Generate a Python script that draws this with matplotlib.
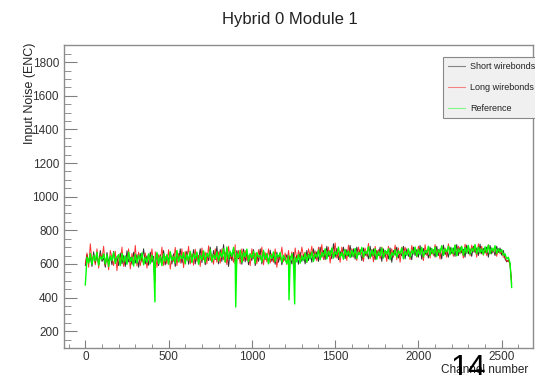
import numpy as np
import matplotlib.pyplot as plt
from matplotlib.ticker import MultipleLocator

plt.rcParams['font.family'] = ['Liberation Sans', 'DejaVu Sans']

# noise per channel, read every 10 channels (0 .. 2560)
step = 10
short_wb = [590, 655, 612, 640, 585, 672, 605, 650, 598, 680, 615, 635, 580, 668, 610, 645,
            595, 675, 618, 642, 590, 665, 600, 650, 585, 678, 612, 640, 598, 670, 605, 655,
            580, 662, 615, 690, 600, 648, 592, 670, 610, 645, 605, 660, 590, 655, 612, 680,
            595, 650, 620, 672, 600, 660, 585, 668, 615, 690, 605, 650, 622, 675, 598, 665,
            612, 685, 600, 660, 625, 690, 608, 672, 595, 665, 620, 700, 610, 680, 625, 705,
            600, 685, 615, 715, 610, 690, 585, 670, 620, 692, 600, 680, 630, 665, 598, 688,
            612, 672, 595, 660, 620, 685, 590, 655, 615, 690, 600, 670, 625, 660, 605, 682,
            615, 650, 598, 670, 610, 660, 595, 640, 620, 655, 615, 645, 600, 668, 612, 650,
            598, 670, 615, 655, 600, 680, 620, 665, 610, 690, 630, 672, 615, 700, 640, 680,
            625, 705, 645, 680, 630, 720, 640, 692, 625, 675, 650, 700, 632, 685, 645, 710,
            640, 690, 628, 700, 655, 685, 620, 695, 650, 672, 630, 705, 645, 690, 625, 680,
            650, 700, 615, 690, 640, 675, 630, 695, 610, 680, 652, 700, 635, 668, 648, 705,
            630, 690, 645, 672, 625, 700, 650, 685, 640, 710, 628, 692, 655, 680, 635, 700,
            660, 685, 640, 705, 650, 690, 630, 712, 655, 680, 640, 700, 662, 695, 645, 715,
            650, 700, 665, 688, 640, 712, 660, 690, 645, 705, 668, 695, 650, 718, 660, 692,
            665, 700, 640, 710, 660, 690, 650, 705, 668, 695, 652, 680, 630, 612, 625, 600,
            480]
long_wb = [600, 665, 580, 720, 610, 650, 595, 690, 575, 660, 630, 705, 590, 648, 565, 680,
           635, 590, 675, 560, 655, 610, 700, 585, 640, 615, 690, 570, 662, 600, 710, 588,
           670, 590, 640, 600, 665, 575, 650, 620, 690, 598, 672, 580, 655, 610, 700, 590,
           645, 600, 685, 570, 650, 615, 698, 590, 662, 605, 690, 578, 675, 620, 705, 600,
           660, 592, 688, 615, 650, 585, 695, 625, 670, 600, 708, 620, 655, 598, 690, 610,
           672, 605, 690, 625, 670, 595, 705, 630, 650, 610, 715, 620, 680, 600, 690, 618,
           680, 620, 650, 590, 690, 630, 665, 600, 685, 625, 700, 595, 668, 612, 690, 605,
           660, 610, 690, 580, 650, 625, 700, 615, 665, 595, 680, 610, 672, 590, 695, 620,
           680, 620, 700, 645, 670, 610, 690, 650, 705, 630, 678, 618, 700, 640, 715, 625,
           675, 640, 700, 605, 690, 650, 725, 635, 670, 610, 700, 642, 688, 620, 712, 648,
           690, 640, 680, 620, 700, 655, 670, 615, 695, 645, 722, 630, 685, 612, 705, 650,
           685, 630, 700, 660, 680, 615, 705, 650, 690, 640, 712, 625, 695, 610, 700, 655,
           700, 655, 685, 625, 710, 660, 690, 640, 705, 665, 688, 620, 715, 650, 695, 635,
           690, 650, 715, 660, 685, 628, 708, 655, 695, 640, 720, 662, 690, 645, 712, 650,
           705, 660, 690, 635, 718, 665, 700, 648, 712, 670, 695, 640, 720, 660, 705, 652,
           690, 650, 715, 660, 685, 670, 700, 645, 690, 660, 675, 640, 640, 615, 620, 598,
           490]
reference = [475, 640, 605, 662, 598, 650, 618, 670, 592, 645, 628, 660, 600, 655, 585, 648,
             620, 668, 602, 640, 655, 590, 662, 612, 648, 598, 670, 615, 640, 588, 658, 605,
             650, 622, 665, 595, 640, 610, 660, 600, 652, 618, 612, 668, 602, 645, 590, 660,
             615, 655, 598, 672, 620, 645, 605, 680, 612, 650, 630, 668, 600, 658, 622, 675,
             608, 660, 632, 670, 598, 652, 625, 678, 610, 662, 640, 685, 615, 655, 630, 672,
             618, 668, 640, 690, 612, 700, 628, 675, 645, 698, 620, 665, 638, 682, 610, 670,
             642, 688, 615, 660, 635, 675, 605, 668, 640, 652, 612, 680, 628, 662, 600, 655,
             632, 672, 615, 660, 640, 668, 610, 650, 625, 602, 648, 618, 660, 598, 640, 612,
             655, 605, 648, 622, 665, 610, 658, 630, 672, 615, 660, 640, 682, 625, 668, 645,
             690, 630, 675, 650, 695, 635, 672, 655, 700, 640, 668, 628, 685, 650, 676, 638,
             680, 645, 692, 632, 670, 655, 698, 640, 676, 660, 702, 638, 682, 650, 690, 628,
             672, 648, 695, 635, 680, 658, 690, 625, 668, 650, 685, 640, 678, 662, 695, 630,
             675, 652, 690, 640, 682, 660, 700, 645, 688, 655, 698, 642, 680, 665, 705, 650,
             692, 660, 700, 645, 685, 668, 708, 650, 690, 672, 705, 655, 695, 660, 712, 648,
             690, 670, 705, 652, 698, 665, 710, 658, 692, 675, 715, 660, 700, 668, 690, 655,
             702, 668, 712, 660, 695, 675, 708, 662, 690, 670, 685, 652, 660, 630, 640, 605,
             460]

# single dead / low channels
short_dips = ([418, 1257], [500, 505])
long_dips = ([418, 903], [490, 510])
ref_dips = ([418, 903, 1223, 1257], [374, 344, 386, 362])


def series(vals, dips):
    ch = np.arange(len(vals)) * step
    x = np.concatenate([ch, dips[0]])
    y = np.concatenate([vals, dips[1]])
    order = np.argsort(x, kind='stable')
    return x[order], y[order]


fig = plt.figure(figsize=(5.35, 3.75), dpi=100)
ax = fig.add_axes([64/535, 27/375, 469/535, 303/375])

x, y = series(short_wb, short_dips)
ax.plot(x, y, color='black', lw=0.7, alpha=0.8, label='Short wirebonds')
x, y = series(long_wb, long_dips)
ax.plot(x, y, color='red', lw=0.7, alpha=0.8, label='Long wirebonds')
x, y = series(reference, ref_dips)
ax.plot(x, y, color='#00ff00', lw=1.0, label='Reference')

ax.set_xlim(-128, 2688)
ax.set_ylim(100, 1902)
ax.xaxis.set_major_locator(MultipleLocator(500))
ax.xaxis.set_minor_locator(MultipleLocator(100))
ax.yaxis.set_major_locator(MultipleLocator(200))
ax.yaxis.set_minor_locator(MultipleLocator(50))
ax.tick_params(axis='both', which='both', direction='in', color='#808080',
               labelcolor='#333333', labelsize=8.5)
ax.tick_params(axis='y', which='major', length=9.4, pad=3.6)
ax.tick_params(axis='y', which='minor', length=5)
ax.tick_params(axis='x', which='major', length=5.8, pad=2.5)
ax.tick_params(axis='x', which='minor', length=3)
for sp in ax.spines.values():
    sp.set_color('#8c8c8c')
    sp.set_linewidth(1)

leg = ax.legend(loc='upper left', bbox_to_anchor=(443/535, 1 - 57/375),
                bbox_transform=fig.transFigure, fontsize=6.5, frameon=True,
                fancybox=False, handlelength=1.9, handletextpad=0.55,
                borderpad=0.55, labelspacing=1.35, borderaxespad=0)
leg.get_frame().set_facecolor('#f0f0f0')
leg.get_frame().set_edgecolor('#888888')
leg.get_frame().set_linewidth(0.8)
leg.get_frame().set_alpha(1)
for h in leg.legend_handles:
    h.set_alpha(0.45)
    h.set_linewidth(0.8)
for t in leg.get_texts():
    t.set_color('#222222')

fig.text(290/535, 1 - 19.5/375, 'Hybrid 0 Module 1', fontsize=12,
         ha='center', va='center', color='#222222')
fig.text(30/535, 1 - 43/375, 'Input Noise (ENC)', fontsize=9, rotation=90,
         ha='center', va='top', color='#222222')
fig.text(528/535, 2/375, 'Channel number', fontsize=8.5, ha='right',
         va='baseline', color='#222222')
fig.text(451/535, -2/375, '14', fontsize=23, ha='left', va='baseline',
         color='black')

fig.savefig('out.png', dpi=100)
